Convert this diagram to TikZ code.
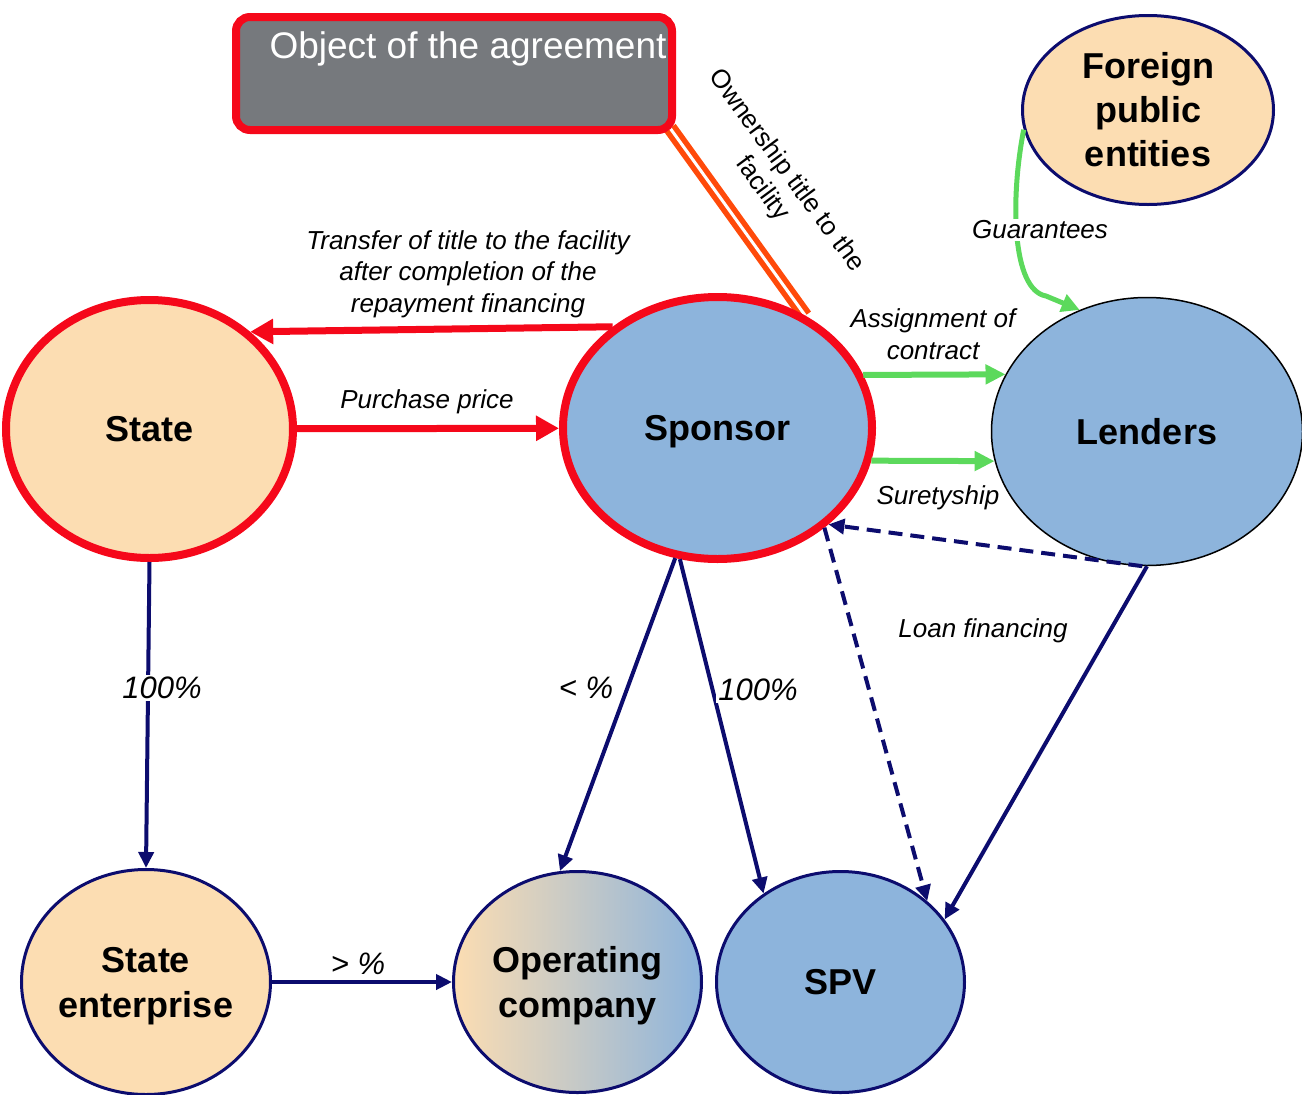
\documentclass[tikz,border=0pt]{standalone}
\usepackage{fontspec}
\setmainfont{Liberation Sans}
\usetikzlibrary{shapes.geometric,arrows.meta}
\definecolor{peach}{HTML}{FCDDB2}
\definecolor{skyblue}{HTML}{8DB4DC}
\definecolor{alarm}{HTML}{F5081A}
\definecolor{rust}{HTML}{FF4A0A}
\definecolor{slate}{HTML}{76797D}
\definecolor{leaf}{HTML}{5CD95C}
\definecolor{navy}{HTML}{0C0C6E}
\pgfdeclarelayer{under}
\pgfsetlayers{under,main}
\begin{document}
\begin{tikzpicture}[x=1pt,y=-1pt,
  entity/.style={ellipse, inner sep=0pt, align=center,
    font=\fontsize{36}{45}\selectfont\bfseries},
  keyline/.style={draw=alarm, line width=8pt},
  minorline/.style={draw=navy, line width=3pt},
  lbl/.style={font=\fontsize{26}{31.5}\selectfont\itshape, align=center, inner sep=0pt},
  pct/.style={font=\fontsize{31}{36}\selectfont\itshape, fill=white, inner sep=2pt},
  redarrow/.style={draw=alarm, line width=7pt, -{Triangle[length=23pt,width=24pt]}},
  greenarrow/.style={draw=leaf, line width=6pt, -{Triangle[length=20pt,width=19pt]}},
  navyarrow/.style={draw=navy, line width=4pt, -{Triangle[length=16pt,width=15pt]}},
  loan/.style={navyarrow, dash pattern=on 14pt off 8pt}]
\useasboundingbox (0,0) rectangle (1302,1095);

% parties
\node[draw=alarm, line width=8pt, fill=slate, rounded corners=14pt,
  minimum width=436pt, minimum height=113pt] (obj) at (454,73.5) {};
\node[text=white, inner sep=0pt, font=\fontsize{37}{40}\selectfont] (objtext) at (468,49) {Object of the agreement};

\node[entity, keyline, fill=peach, minimum width=287pt, minimum height=258pt] (state) at (149.5,429) {State};
\node[entity, keyline, fill=skyblue, minimum width=309pt, minimum height=262pt, text depth=0pt] (sponsor) at (717.5,428) {Sponsor};
\node[entity, draw=black, line width=1.5pt, fill=skyblue, minimum width=311pt, minimum height=268pt] (lenders) at (1147,431.5) {Lenders};
\node[entity, minorline, fill=peach, minimum width=251pt, minimum height=189pt,
  font=\fontsize{36}{44}\selectfont\bfseries] (foreign) at (1148,110) {Foreign\\public\\entities};
\node[entity, minorline, fill=peach, minimum width=249pt, minimum height=225pt, text depth=0pt] (stateent) at (146,982) {State\\enterprise};
\node[entity, minorline, left color=peach, right color=skyblue, minimum width=248pt, minimum height=221pt, text depth=0pt] (opco) at (577.5,982) {Operating\\company};
\node[entity, minorline, fill=skyblue, minimum width=248pt, minimum height=221pt] (spv) at (840.5,982) {SPV};

% ownership link, passing under the box and the sponsor
\begin{pgfonlayer}{under}
\draw[draw=rust, line width=5.5pt, double=white, double distance=3pt]
  ([shift={(-6,-6)}]obj.south east) -- (sponsor.52.7);
\end{pgfonlayer}

% title and price between state and sponsor
\draw[redarrow] (sponsor.136.8) -- (state.44);
\draw[redarrow] (state) -- (sponsor);

% sponsor to lenders
\draw[greenarrow] (sponsor.20.1) -- (lenders.158.2);
\draw[greenarrow] (sponsor.-12.9) -- (lenders.191.8);

% guarantees
\draw[draw=leaf, line width=5pt, -{Triangle[length=18pt,width=18pt]}]
  (foreign.189.2) .. controls (1010,200) and (1012,290) .. (1046,296) -- (lenders.119.5);

% shareholdings
\draw[navyarrow] (state.south) -- (stateent.north);
\draw[navyarrow] (stateent) -- (opco);
\draw[navyarrow] (sponsor.252.8) -- (opco.99);
\draw[navyarrow] (sponsor.254.5) -- (spv.131.4);

% loan financing
\draw[navyarrow] (lenders.south) -- (spv.31.3);
\draw[loan] (lenders.268) -- (sponsor.-41);
\draw[loan] (sponsor.-43) -- (spv.43.1);

% labels
\node[lbl] (ltransfer) at (468,274) {Transfer of title to the facility\\after completion of the\\repayment financing};
\node[lbl] (lprice) at (427,402) {Purchase price};
\node[lbl] (lassign) at (933,334) {Assignment of\\contract};
\node[lbl] (lsurety) at (938,498) {Suretyship};
\node[lbl, fill=white, inner sep=2pt] (lguar) at (1040,230) {Guarantees};
\node[lbl] (lloan) at (983,631) {Loan financing};
\node[font=\fontsize{26}{30}\selectfont, align=center, inner sep=0pt, rotate=-53.5] (lown) at (774,180)
  {Ownership title to the\\facility};
\node[pct] (pstate) at (162,688) {100\%};
\node[pct] (pop) at (586,688) {< \%};
\node[pct] (pspv) at (758,690) {100\%};
\node[pct] (pent) at (358,964) {> \%};
\end{tikzpicture}
\end{document}
